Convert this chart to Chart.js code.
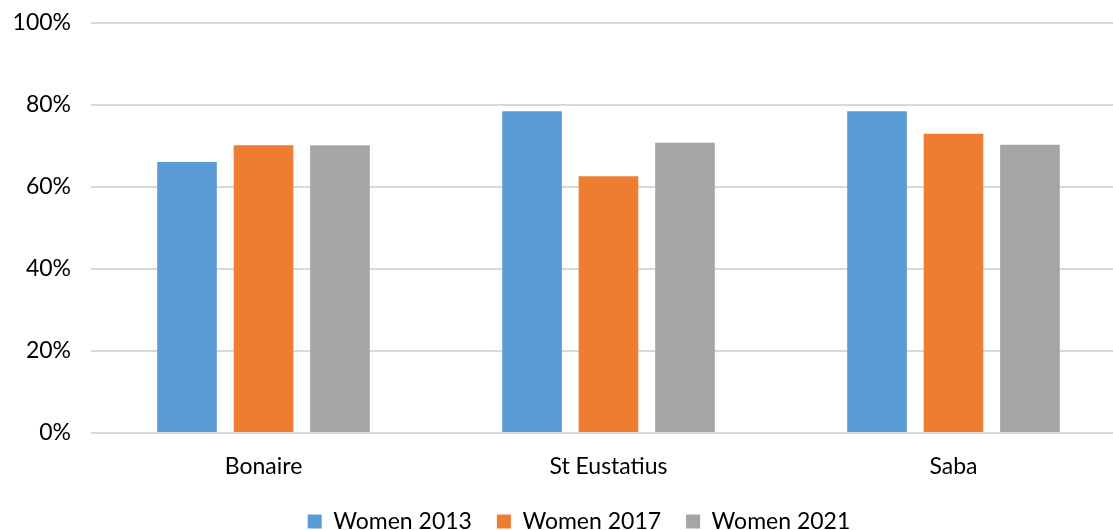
<!DOCTYPE html>
<html>
<head>
<meta charset="utf-8">
<script src="https://cdn.jsdelivr.net/npm/chart.js@4/dist/chart.umd.min.js"></script>
<style>
html,body{margin:0;padding:0;background:#fff;overflow:hidden;width:1113px;height:530px;}
#wrap{width:1126px;height:530px;position:relative;}
</style>
</head>
<body>
<div id="wrap"><canvas id="c"></canvas></div>
<script>
const categories = ["Bonaire", "St Eustatius", "Saba"];
const women2013 = [66.1, 78.5, 78.5];
const women2017 = [70.2, 62.6, 73.0];
const women2021 = [70.2, 70.8, 70.3];
const seriesNames = ["Women 2013", "Women 2017", "Women 2021"];
const colors = ["#5B9BD5", "#ED7D31", "#A5A5A5"];

const FONT = "Lato, 'Open Sans', sans-serif";

const legendShift = {
  id: 'legendShift',
  afterLayout(chart) {
    if (chart.legend) { chart.legend.left = 32; }
  }
};

new Chart(document.getElementById('c'), {
  type: 'bar',
  data: {
    labels: categories,
    datasets: [women2013, women2017, women2021].map((d, i) => ({
      label: seriesNames[i],
      data: d,
      backgroundColor: colors[i],
      borderWidth: 0,
      categoryPercentage: 0.665,
      barPercentage: 0.78
    }))
  },
  plugins: [legendShift],
  options: {
    responsive: true,
    maintainAspectRatio: false,
    animation: false,
    layout: { padding: { top: 23, right: 0, left: 0, bottom: -13 } },
    plugins: {
      tooltip: { enabled: false },
      legend: {
        position: 'bottom',
        labels: {
          font: { family: FONT, size: 23 },
          color: '#000',
          boxWidth: 14,
          boxHeight: 14,
          padding: 25,
          useBorderRadius: false
        }
      }
    },
    scales: {
      x: {
        grid: { display: false, drawTicks: false },
        border: { display: false },
        ticks: { font: { family: FONT, size: 23 }, color: '#000', padding: 20 },
        afterFit: s => { s.height = 52; s.paddingLeft = 0; s.paddingRight = 0; }
      },
      y: {
        min: 0, max: 100,
        ticks: {
          stepSize: 20,
          font: { family: FONT, size: 23 },
          color: '#000',
          padding: 20,
          callback: v => v + '%'
        },
        grid: { color: '#d9d9d9', lineWidth: 2, drawTicks: false },
        border: { display: false },
        afterFit: s => { s.width = 91; s.paddingTop = 0; s.paddingBottom = 0; }
      }
    }
  }
});
</script>
</body>
</html>
